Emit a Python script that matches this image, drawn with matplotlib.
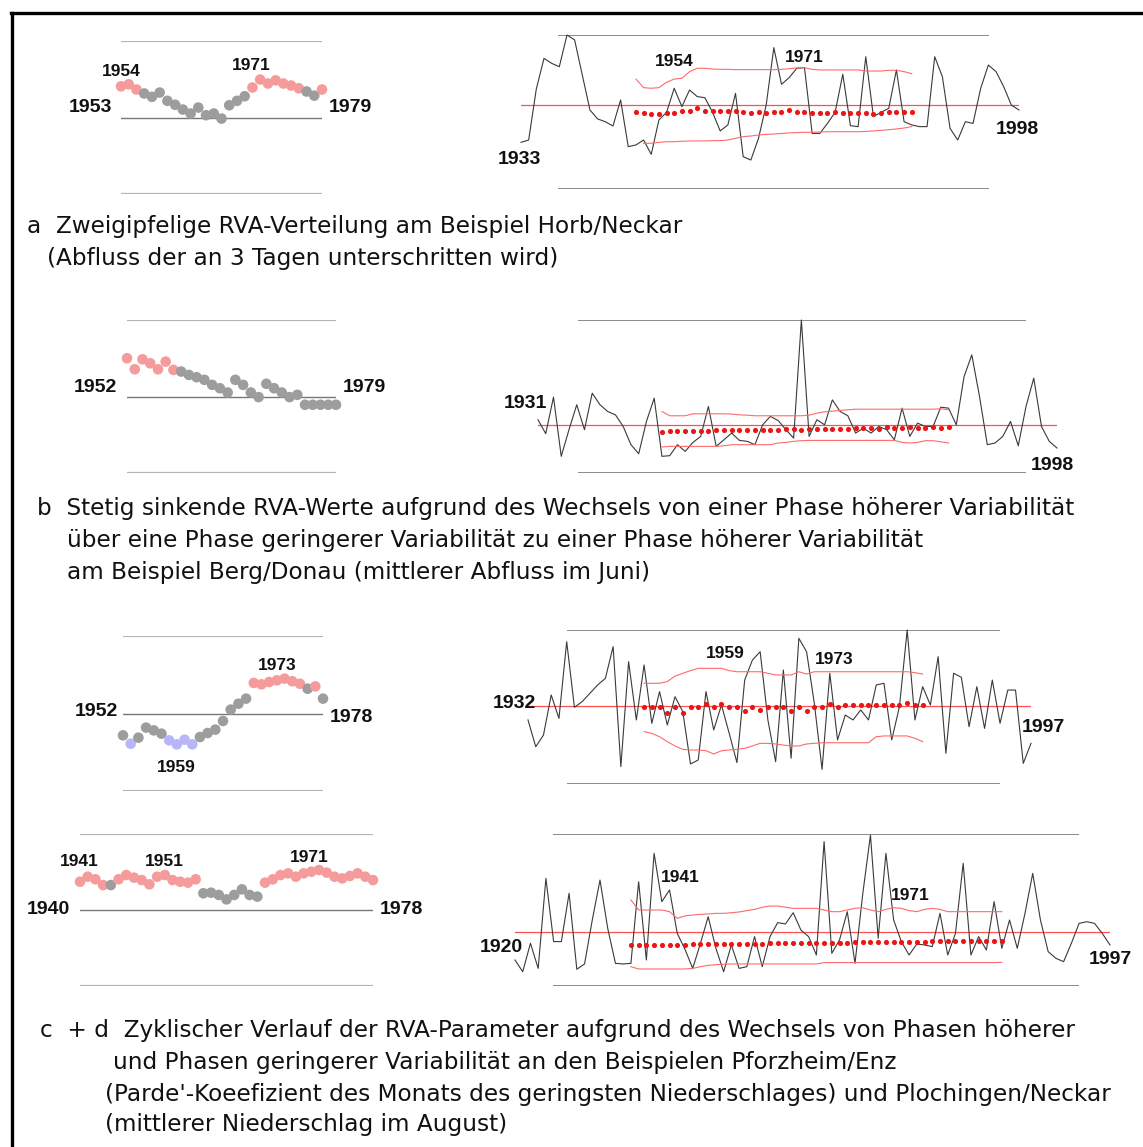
import numpy as np
import matplotlib
matplotlib.use("Agg")
import matplotlib.pyplot as plt
from matplotlib.lines import Line2D

W, H = 1143, 1147

# RVA moving-window values (left) and yearly series (right), scaled 0..100
# between the lower and upper reference lines of each panel.
# phase codes: r = higher variability, g = neutral, b = lower variability

# a  Horb/Neckar
a_rva_years = np.arange(1953, 1980)
a_rva = [70.4, 71.7, 68.3, 65.7, 63.5, 66.3, 60.9, 58.3, 55.2, 52.6,
         56.5, 51.5, 52.6, 49.3, 58.0, 60.9, 63.9, 69.6, 74.8, 72.2,
         74.3, 72.2, 70.9, 69.1, 67.0, 64.3, 68.3]
a_phase = "rrrggggggggggggggrrrrrrrggr"

a_years = np.arange(1933, 1999)
a_flow = [30.3, 31.8, 65.0, 84.8, 81.6, 79.4, 100.0, 96.8, 74.0, 51.3,
          45.5, 43.7, 40.9, 57.8, 27.5, 28.6, 31.8, 22.5, 44.8, 49.8,
          65.4, 53.5, 64.3, 60.0, 59.3, 49.8, 37.7, 41.6, 62.1, 21.0,
          18.8, 32.9, 54.5, 91.8, 68.0, 72.3, 78.4, 78.8, 36.1, 36.1,
          42.6, 49.8, 74.5, 41.1, 40.5, 85.9, 47.0, 49.8, 52.4, 77.3,
          43.7, 41.6, 40.5, 40.5, 85.9, 72.9, 39.4, 31.8, 43.7, 42.6,
          65.4, 80.5, 76.2, 66.5, 54.5, 51.3]
a_mean = 54.5
a_win_years = np.arange(1948, 1985)
a_win_mean = [50.2, 49.1, 48.9, 48.9, 49.1, 49.6, 50.9, 50.6, 52.8, 50.6,
              50.6, 50.6, 50.6, 50.6, 50.2, 49.6, 50.2, 49.4, 49.8, 50.2,
              51.3, 50.2, 50.2, 49.4, 49.1, 49.6, 49.8, 49.4, 49.4, 49.1,
              49.1, 48.7, 49.6, 49.8, 49.8, 49.8, 49.8]
a_win_upper = [71.4, 65.8, 65.4, 65.8, 69.3, 71.4, 71.9, 76.2, 78.4, 78.4,
               77.9, 77.7, 77.7, 77.5, 77.5, 77.5, 77.5, 77.5, 77.5, 77.7,
               78.1, 78.6, 78.8, 77.7, 77.3, 77.3, 77.3, 77.3, 77.3, 77.3,
               76.6, 76.6, 76.6, 77.1, 77.1, 76.2, 74.9]
a_win_lower = [np.nan, 29.7, 29.7, 30.3, 30.7, 30.7, 31.0, 31.2, 31.2, 31.2,
               31.4, 31.4, 31.8, 32.9, 34.0, 34.4, 35.1, 35.5, 35.7, 36.1,
               36.4, 36.6, 36.8, 36.8, 37.0, 37.2, 37.2, 37.2, 37.2, 37.2,
               37.4, 37.7, 38.1, 38.5, 39.0, 39.6, 40.5]

# b  Berg/Donau
b_rva_years = np.arange(1952, 1980)
b_rva = [75.0, 67.8, 74.3, 71.7, 67.8, 72.8, 67.4, 66.3, 64.1, 62.6,
         60.9, 57.6, 55.4, 52.6, 60.9, 57.6, 52.6, 49.6, 58.3, 55.4,
         52.6, 49.6, 51.1, 44.6, 44.6, 44.6, 44.6, 44.6]
b_phase = "rrrrrrrggggggggggggggggggggg"

b_years = np.arange(1931, 1999)
b_flow = [34.8, 25.7, 49.6, 10.9, 28.3, 44.6, 28.3, 52.2, 44.6, 40.2,
          38.0, 30.4, 18.5, 12.6, 33.7, 48.9, 10.9, 11.3, 18.5, 14.1,
          20.0, 23.9, 43.5, 17.4, 21.7, 26.1, 21.3, 20.7, 18.5, 31.5,
          37.0, 34.3, 28.3, 22.8, 100.0, 23.9, 34.8, 31.5, 47.8, 40.2,
          37.4, 26.1, 29.3, 26.1, 30.4, 28.3, 21.7, 42.4, 23.9, 32.6,
          30.4, 30.4, 43.0, 42.4, 31.5, 63.0, 77.2, 50.0, 18.5, 19.6,
          23.9, 33.7, 17.8, 43.5, 62.0, 30.4, 20.7, 16.3]
b_mean = 31.5
b_win_years = np.arange(1947, 1985)
b_win_mean = [27.0, 27.2, 27.2, 27.4, 27.6, 27.4, 27.6, 27.8, 28.0, 27.8,
              28.0, 28.0, 28.3, 28.3, 28.0, 28.3, 28.5, 28.5, 28.3, 28.7,
              28.7, 28.5, 28.9, 28.9, 28.7, 29.1, 29.6, 29.1, 28.9, 29.8,
              29.3, 29.1, 29.8, 29.3, 29.6, 29.8, 29.6, 29.8]
b_win_upper = [40.2, 37.4, 37.4, 37.4, 38.7, 38.7, 38.7, 38.7, 38.7, 38.5,
               38.0, 37.8, 37.4, 37.4, 37.4, 37.4, 37.4, 37.4, 37.4, 37.8,
               39.1, 40.0, 40.4, 40.9, 41.3, 41.7, 41.7, 41.7, 41.7, 41.7,
               41.7, 41.7, 41.7, 41.7, 41.7, 41.7, 42.0, 41.3]
b_win_lower = [17.0, 17.4, 17.4, 17.4, 17.4, 17.4, 17.4, 17.4, 17.8, 18.5,
               18.5, 18.5, 18.5, 18.5, 18.5, 19.6, 20.0, 20.7, 21.1, 21.3,
               21.3, 21.3, 21.3, 21.3, 21.3, 21.3, 21.3, 21.3, 21.3, 21.3,
               21.3, 20.0, 19.6, 20.0, 21.1, 21.1, 20.4, 19.6]

# c  Pforzheim/Enz
c_rva_years = np.arange(1952, 1979)
c_rva = [35.9, 30.5, 34.4, 40.9, 39.1, 37.0, 32.7, 30.1, 33.1, 30.1,
         34.8, 37.4, 39.6, 45.2, 52.5, 56.3, 59.6, 69.7, 68.8, 70.3,
         71.4, 72.5, 70.8, 69.2, 66.0, 67.5, 59.6]
c_phase = "gbggggbbbbgggggggrrrrrrrgrg"

c_years = np.arange(1932, 1998)
c_flow = [41.6, 24.2, 31.8, 57.8, 42.6, 92.4, 49.8, 53.5, 58.9, 64.3,
          68.6, 89.2, 11.3, 79.4, 41.6, 77.3, 39.4, 60.0, 38.3, 56.7,
          47.0, 13.0, 15.6, 60.0, 35.1, 51.3, 32.9, 13.9, 67.5, 80.5,
          85.9, 41.6, 14.5, 74.0, 16.7, 94.6, 85.9, 52.4, 9.5, 71.9,
          28.6, 44.8, 41.6, 48.1, 41.6, 64.3, 65.4, 28.6, 50.2, 100.0,
          41.6, 63.2, 51.3, 82.7, 19.9, 71.9, 69.3, 37.2, 63.2, 36.1,
          67.5, 39.4, 61.0, 61.0, 13.4, 26.4]
c_mean = 50.6
c_win_years = np.arange(1947, 1984)
c_win_mean = [49.8, 49.8, 49.8, 45.9, 49.8, 45.9, 49.8, 49.8, 51.9, 49.8,
              51.9, 49.8, 49.8, 47.6, 49.8, 48.1, 49.8, 49.8, 49.8, 47.6,
              49.8, 47.6, 49.8, 49.8, 51.9, 49.8, 51.3, 51.3, 51.3, 51.3,
              51.3, 51.3, 51.3, 51.3, 52.4, 51.3, 51.3]
c_win_upper = [65.4, 65.4, 65.4, 66.5, 70.1, 71.9, 73.6, 75.1, 75.1, 75.1,
               75.1, 73.6, 72.9, 72.9, 72.9, 72.9, 71.9, 70.8, 70.8, 70.8,
               72.9, 71.4, 72.9, 72.9, 72.9, 72.9, 72.9, 72.9, 72.9, 72.9,
               72.9, 72.9, 72.9, 72.9, 72.9, 72.3, 71.4]
c_win_lower = [34.0, 32.9, 30.7, 27.5, 24.7, 22.5, 22.1, 22.1, 21.6, 19.5,
               21.6, 22.1, 22.5, 23.2, 24.7, 26.4, 26.4, 26.0, 25.3, 24.7,
               24.7, 26.0, 26.4, 26.8, 26.8, 26.8, 26.8, 26.8, 26.8, 26.8,
               30.7, 31.2, 31.2, 31.2, 31.2, 29.7, 27.5]

# d  Plochingen/Neckar
d_rva_years = np.arange(1940, 1979)
d_rva = [68.6, 71.9, 70.2, 66.4, 66.4, 70.2, 73.0, 71.3, 69.7, 66.9,
         71.9, 73.0, 69.7, 68.6, 68.0, 70.2, 61.0, 61.4, 59.9, 57.0,
         59.9, 63.6, 59.9, 58.8, 68.0, 70.2, 73.0, 74.1, 71.9, 74.1,
         75.2, 76.3, 74.6, 71.9, 70.8, 72.4, 74.1, 71.9, 69.7]
d_phase = "rrrrgrrrrrrrrrrrggggggggrrrrrrrrrrrrrrr"

d_years = np.arange(1920, 1998)
d_flow = [17.1, 9.4, 28.1, 11.6, 70.8, 29.2, 29.2, 61.0, 11.0, 14.5,
          43.4, 69.7, 37.9, 14.9, 14.5, 14.9, 68.6, 17.1, 87.3, 55.5,
          63.2, 34.6, 24.1, 11.6, 28.1, 45.6, 24.8, 9.4, 27.0, 11.6,
          12.7, 32.5, 12.7, 32.5, 41.7, 40.8, 48.2, 36.8, 32.5, 20.4,
          95.0, 21.5, 30.3, 48.9, 14.9, 60.5, 99.3, 31.4, 87.3, 43.4,
          29.2, 20.4, 27.6, 27.0, 25.9, 47.8, 20.4, 34.6, 80.7, 20.4,
          32.5, 23.7, 55.5, 24.8, 43.4, 24.8, 47.8, 74.1, 43.4, 22.6,
          18.2, 16.0, 28.1, 41.2, 42.3, 41.2, 34.6, 27.0]
d_mean = 35.3
d_win_years = np.arange(1935, 1984)
d_win_mean = [26.8, 27.0, 27.0, 27.0, 27.2, 27.2, 27.2, 27.2, 27.4, 27.4,
              27.4, 27.6, 27.6, 27.6, 27.6, 27.8, 27.8, 27.8, 28.0, 28.0,
              28.0, 28.0, 28.3, 28.3, 28.3, 28.5, 28.5, 28.5, 28.5, 28.7,
              28.7, 28.7, 28.9, 28.9, 28.9, 29.1, 29.1, 29.1, 29.1, 29.3,
              29.3, 29.3, 29.5, 29.5, 29.5, 29.5, 29.7, 29.7, 29.7]
d_win_upper = [56.6, 50.0, 50.0, 50.0, 50.0, 48.9, 44.5, 46.1, 46.7, 47.1,
               47.4, 47.8, 47.8, 48.2, 48.7, 49.6, 50.4, 51.8, 52.6, 52.6,
               51.8, 51.1, 51.1, 51.1, 51.1, 50.0, 48.9, 48.9, 50.0, 51.1,
               51.5, 50.0, 48.9, 50.4, 51.5, 51.1, 49.6, 48.9, 50.4, 51.1,
               50.4, 48.9, 48.9, 48.9, 48.9, 48.9, 48.9, 48.9, 48.9]
d_win_lower = [12.7, 11.2, 11.2, 11.2, 11.2, 11.2, 11.2, 11.2, 11.6, 12.7,
               13.6, 14.0, 14.3, 14.5, 14.5, 14.5, 14.5, 14.5, 14.5, 14.5,
               14.5, 14.5, 14.5, 14.5, 14.5, 15.4, 15.4, 15.4, 15.4, 15.4,
               15.4, 15.4, 15.4, 15.4, 15.4, 15.4, 15.4, 15.4, 15.4, 15.4,
               15.4, 15.4, 15.4, 15.4, 15.4, 15.4, 15.4, 15.4, 15.6]

PHASE_COLORS = {"r": "#f59b9b", "g": "#9d9d9d", "b": "#b8b6f8"}
LABEL_FONT = "Liberation Sans"
TEXT_FONT = "DejaVu Sans"

fig = plt.figure(figsize=(W / 100, H / 100), dpi=100)
fig.patch.set_facecolor("white")


def px_axes(x0, y0, x1, y1):
    ax = fig.add_axes([x0 / W, 1 - y1 / H, (x1 - x0) / W, (y1 - y0) / H])
    ax.set_ylim(0, 100)
    ax.axis("off")
    return ax


def label(x, y, s, size=14, **kw):
    fig.text(x / W, 1 - y / H, s, ha="center", va="center", fontsize=size,
             fontweight="bold", family=LABEL_FONT, color="#111111", **kw)


def caption(x, y, s):
    fig.text(x / W, 1 - y / H, s, ha="left", va="center", fontsize=16.7,
             family=TEXT_FONT, color="#111111")


def rva_panel(rect, years, vals, phase):
    ax = px_axes(*rect)
    ax.set_xlim(years[0], years[-1])
    ax.axhline(100, color="#b4b4b4", lw=1.6)
    ax.axhline(0, color="#b4b4b4", lw=1.6)
    ax.axhline(50, color="#777777", lw=1.0)
    ax.scatter(years, vals, c=[PHASE_COLORS[p] for p in phase], s=58,
               linewidths=0, zorder=3, clip_on=False)
    return ax


def series_panel(rect, span, years, flow, mean, wyears, wmean, upper, lower):
    ax = px_axes(*rect)
    ax.set_xlim(years[0], years[-1])
    ax.axhline(100, xmin=span[0], xmax=span[1], color="#8a8a8a", lw=1.4)
    ax.axhline(0, xmin=span[0], xmax=span[1], color="#8a8a8a", lw=1.4)
    ax.axhline(mean, color="#ff5050", lw=0.9, zorder=1)
    ax.plot(years, flow, color="#3a3a3a", lw=0.8, zorder=2, clip_on=False)
    ax.plot(wyears, upper, color="#ff6a6a", lw=0.8, zorder=2)
    ax.plot(wyears, lower, color="#ff6a6a", lw=0.8, zorder=2)
    ax.plot(wyears, wmean, "o", color="#ec1515", ms=3.7, mew=0, zorder=3)
    return ax


# panel a
rva_panel((121, 41, 322, 194), a_rva_years, a_rva, a_phase)
series_panel((521, 35, 1019, 189), (0.076, 0.938), a_years, a_flow, a_mean,
             a_win_years, a_win_mean, a_win_upper, a_win_lower)
label(90, 108, "1953")
label(121, 72, "1954", 12.5)
label(251, 66, "1971", 12.5)
label(350, 108, "1979")
label(519, 160, "1933")
label(1017, 130, "1998")
label(674, 62, "1954", 12.5)
label(804, 57, "1971", 12.5)
caption(27, 227, "a  Zweigipfelige RVA-Verteilung am Beispiel Horb/Neckar")
caption(47, 258, "(Abfluss der an 3 Tagen unterschritten wird)")

# panel b
rva_panel((127, 320, 336, 473), b_rva_years, b_rva, b_phase)
series_panel((538, 320, 1057, 473), (0.079, 0.938), b_years, b_flow, b_mean,
             b_win_years, b_win_mean, b_win_upper, b_win_lower)
label(95, 388, "1952")
label(364, 388, "1979")
label(525, 403, "1931")
label(1052, 465, "1998")
caption(37, 509, "b  Stetig sinkende RVA-Werte aufgrund des Wechsels von einer "
        "Phase höherer Variabilität")
caption(67, 541, "über eine Phase geringerer Variabilität zu einer Phase "
        "höherer Variabilität")
caption(67, 572, "am Beispiel Berg/Donau (mittlerer Abfluss im Juni)")

# panel c
rva_panel((123, 636, 323, 791), c_rva_years, c_rva, c_phase)
series_panel((528, 630, 1031, 784), (0.080, 0.936), c_years, c_flow, c_mean,
             c_win_years, c_win_mean, c_win_upper, c_win_lower)
label(96, 712, "1952")
label(351, 717, "1978")
label(176, 767, "1959", 12.5)
label(277, 665, "1973", 12.5)
label(514, 703, "1932")
label(1043, 727, "1997")
label(725, 653, "1959", 12.5)
label(834, 659, "1973", 12.5)

# panel d
rva_panel((80, 834, 373, 986), d_rva_years, d_rva, d_phase)
series_panel((515, 834, 1110, 986), (0.066, 0.946), d_years, d_flow, d_mean,
             d_win_years, d_win_mean, d_win_upper, d_win_lower)
label(79, 862, "1941", 12.5)
label(164, 862, "1951", 12.5)
label(309, 857, "1971", 12.5)
label(48, 910, "1940")
label(401, 910, "1978")
label(680, 877, "1941", 12.5)
label(910, 895, "1971", 12.5)
label(501, 947, "1920")
label(1110, 960, "1997")

caption(40, 1031, "c  + d  Zyklischer Verlauf der RVA-Parameter aufgrund des "
        "Wechsels von Phasen höherer")
caption(113, 1062, "und Phasen geringerer Variabilität an den Beispielen "
        "Pforzheim/Enz")
caption(105, 1094, "(Parde'-Koeefizient des Monats des geringsten "
        "Niederschlages) und Plochingen/Neckar")
caption(105, 1125, "(mittlerer Niederschlag im August)")

# frame along the top and left edge
fig.add_artist(Line2D([11 / W, 1], [1 - 13 / H, 1 - 13 / H], color="black",
                      lw=2.4, transform=fig.transFigure))
fig.add_artist(Line2D([12 / W, 12 / W], [1 - 13 / H, 0], color="black",
                      lw=2.4, transform=fig.transFigure))

fig.savefig("out.png", dpi=100, facecolor="white")
